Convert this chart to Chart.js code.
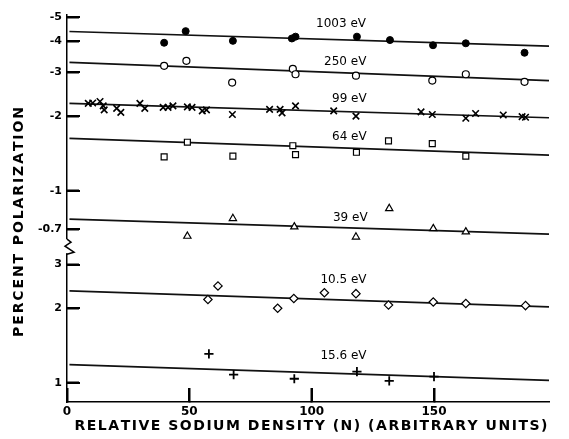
<!DOCTYPE html>
<html>
<head>
<meta charset="utf-8">
<script src="https://cdn.jsdelivr.net/npm/chart.js@4/dist/chart.umd.min.js"></script>
<style>
  body { margin: 0; background: #fff; }
</style>
</head>
<body>
<canvas id="polChart" width="569" height="439"></canvas>
<script>
// relative sodium density (N) for each series, and percent polarization
const n1003 = [39.7, 48.5, 67.8, 91.9, 93.4, 118.5, 132, 149.6, 163, 187];
const p1003 = [-3.95, -4.40, -4.02, -4.11, -4.18, -4.18, -4.05, -3.86, -3.93, -3.60];

const n250 = [39.7, 48.8, 67.5, 92.3, 93.4, 118.1, 149.3, 163, 187];
const p250 = [-3.19, -3.34, -2.73, -3.10, -2.95, -2.91, -2.78, -2.95, -2.75];

const n99 = [8.7, 10.5, 13.5, 14.8, 15.2, 20.3, 22.0, 29.8, 31.8, 39.3, 41.3, 43.3, 49.2, 51.1, 55.3,
             57.0, 67.6, 82.8, 87.1, 87.9, 93.4, 109, 118.1, 144.7, 149.3, 163, 167, 178.3, 186, 187.4];
const p99 = [-2.25, -2.26, -2.29, -2.20, -2.12, -2.15, -2.07, -2.25, -2.15, -2.17, -2.17, -2.20, -2.18, -2.17, -2.10,
             -2.12, -2.03, -2.13, -2.13, -2.06, -2.20, -2.10, -2.00, -2.08, -2.03, -1.96, -2.05, -2.02, -1.99, -1.98];

const n64 = [39.7, 49.2, 67.8, 92.3, 93.4, 118.3, 131.4, 149.3, 163];
const p64 = [-1.37, -1.57, -1.38, -1.52, -1.40, -1.43, -1.59, -1.55, -1.38];

const n39 = [49.2, 67.8, 92.9, 118.1, 131.7, 149.7, 163];
const p39 = [-0.657, -0.774, -0.716, -0.652, -0.849, -0.705, -0.684];

const n105 = [57.6, 61.7, 86.1, 92.7, 105.2, 118.1, 131.4, 149.7, 163, 187.4];
const p105 = [2.17, 2.46, 2.00, 2.19, 2.31, 2.29, 2.06, 2.12, 2.09, 2.05];

const n156 = [58, 68.1, 92.9, 118.5, 131.7, 150];
const p156 = [1.31, 1.08, 1.04, 1.11, 1.02, 1.06];

// fitted straight lines: value at start and end of the density range
const fitN = [1, 197];
const fit1003 = [-4.385, -3.83];
const fit250 = [-3.29, -2.78];
const fit99 = [-2.25, -1.97];
const fit64 = [-1.627, -1.393];
const fit39 = [-0.769, -0.669];
const fit105 = [2.35, 2.025];
const fit156 = [1.186, 1.025];

const energyLabels = ['1003 eV', '250 eV', '99 eV', '64 eV', '39 eV', '10.5 eV', '15.6 eV'];
// label anchor (density, polarization)
const labelN = [112, 113.7, 115.4, 115.4, 115.8, 113, 113];
const labelP = [-4.70, -3.31, -2.35, -1.65, -0.781, 2.61, 1.28];

const topTicks = [5, 4, 3, 2, 1, 0.7];
const bottomTicks = [3, 2, 1];
const xTicks = [0, 50, 100, 150];

// negative polarizations go on the upper (broken) axis, plotted by magnitude
const axisFor = v => v < 0 ? 'yTop' : 'yBot';
const pts = (ns, ps) => ns.map((n, i) => ({ x: n, y: Math.abs(ps[i]) }));

function markers(ns, ps, style, radius, fill, bw) {
    return {
        data: pts(ns, ps),
        yAxisID: axisFor(ps[0]),
        showLine: false,
        pointStyle: style,
        pointRadius: radius,
        pointBackgroundColor: fill,
        pointBorderColor: '#000',
        pointBorderWidth: bw
    };
}
function fitLine(fit) {
    return {
        data: pts(fitN, fit),
        yAxisID: axisFor(fit[0]),
        showLine: true,
        borderColor: '#111',
        borderWidth: 1.7,
        pointRadius: 0
    };
}

const titleFont = 'bold 14px "DejaVu Sans"';

// spread the letters out so the text fills the given width
function drawSpaced(ctx, text, cx, cy, width) {
    const chars = text.split('');
    const widths = chars.map(c => ctx.measureText(c).width);
    const total = widths.reduce((a, b) => a + b, 0);
    const gap = (width - total) / (chars.length - 1);
    ctx.textAlign = 'left';
    let x = cx - width / 2;
    chars.forEach((c, i) => {
        ctx.fillText(c, x, cy);
        x += widths[i] + gap;
    });
}

const decor = {
    id: 'decor',
    afterDraw(chart) {
        const ctx = chart.ctx;
        const s = chart.scales;
        const left = Math.round(s.x.left);
        const bottom = Math.round(s.x.top);
        ctx.save();
        ctx.globalAlpha = 1;
        ctx.globalCompositeOperation = 'source-over';
        ctx.strokeStyle = '#000';
        ctx.fillStyle = '#000';
        ctx.lineWidth = 1.5;

        // inward tick marks, 2px thick on whole pixels
        topTicks.forEach(v => ctx.fillRect(left, Math.round(s.yTop.getPixelForValue(v)) - 1, 13, 2));
        bottomTicks.forEach(v => ctx.fillRect(left, Math.round(s.yBot.getPixelForValue(v)) - 1, 13, 2));
        xTicks.slice(1).forEach(v => ctx.fillRect(Math.round(s.x.getPixelForValue(v)) - 1, bottom - 14, 2, 14));

        // axis break
        const yb = s.yTop.bottom;
        ctx.fillStyle = '#fff';
        ctx.fillRect(left - 3, yb - 8, 6, 14);
        ctx.fillStyle = '#000';
        ctx.beginPath();
        ctx.moveTo(left, yb - 8);
        ctx.lineTo(left + 4, yb - 5);
        ctx.lineTo(left - 2, yb - 1);
        ctx.lineTo(left + 7, yb + 5);
        ctx.lineTo(left, yb + 7);
        ctx.stroke();

        // energy labels
        ctx.font = '12px "DejaVu Sans"';
        ctx.textAlign = 'center';
        ctx.textBaseline = 'middle';
        energyLabels.forEach((t, i) => {
            const id = axisFor(labelP[i]);
            ctx.fillText(t, s.x.getPixelForValue(labelN[i]), s[id].getPixelForValue(Math.abs(labelP[i])));
        });

        // axis titles
        ctx.font = titleFont;
        ctx.textBaseline = 'middle';
        drawSpaced(ctx, 'RELATIVE SODIUM DENSITY (N) (ARBITRARY UNITS)', 311, 426, 473);
        ctx.translate(19, 222);
        ctx.rotate(-Math.PI / 2);
        drawSpaced(ctx, 'PERCENT POLARIZATION', 0, 0, 230);
        ctx.restore();
    }
};

// negative tickLength turns the tick marks inward; padding makes up for it
const yBase = {
    type: 'logarithmic',
    position: 'left',
    stack: 'pol',
    grid: { display: true, drawOnChartArea: false, drawTicks: true, tickLength: -12, tickWidth: 2, tickColor: '#000' },
    border: { display: true, color: '#000', width: 1.5 },
    ticks: { color: '#000', padding: 17, font: { family: 'DejaVu Sans', size: 11, weight: 'bold' } },
    afterFit(scale) { scale.width = 67; scale.paddingTop = 0; scale.paddingBottom = 0; }
};

new Chart(document.getElementById('polChart'), {
    type: 'scatter',
    data: {
        datasets: [
            markers(n1003, p1003, 'circle', 3.5, '#000', 1),
            markers(n250, p250, 'circle', 3.5, '#fff', 1.2),
            markers(n99, p99, 'crossRot', 4.6, '#000', 1.6),
            markers(n64, p64, 'rect', 4.2, '#fff', 1.2),
            markers(n39, p39, 'triangle', 4.2, '#fff', 1.2),
            markers(n105, p105, 'rectRot', 4.2, '#fff', 1.2),
            markers(n156, p156, 'cross', 4.6, '#000', 1.8),
            fitLine(fit1003), fitLine(fit250), fitLine(fit99), fitLine(fit64),
            fitLine(fit39), fitLine(fit105), fitLine(fit156)
        ]
    },
    options: {
        responsive: false,
        animation: false,
        layout: { padding: { top: 15, right: 20, left: 0, bottom: 0 } },
        plugins: { legend: { display: false }, tooltip: { enabled: false } },
        scales: {
            x: {
                type: 'linear',
                min: 0,
                max: 197,
                grid: { display: true, drawOnChartArea: false, drawTicks: true, tickLength: -14, tickWidth: 2, tickColor: '#000' },
                border: { display: true, color: '#000', width: 1.5 },
                ticks: { color: '#000', padding: 17, font: { family: 'DejaVu Sans', size: 12, weight: 'bold' } },
                afterBuildTicks(scale) { scale.ticks = xTicks.map(v => ({ value: v })); },
                afterFit(scale) { scale.height = 37; scale.paddingLeft = 0; scale.paddingRight = 0; }
            },
            yTop: Object.assign({}, yBase, {
                weight: 2,
                stackWeight: 232,
                min: 0.593,
                max: 5.11,
                afterBuildTicks(scale) { scale.ticks = topTicks.map(v => ({ value: v })); },
                ticks: Object.assign({}, yBase.ticks, { callback: v => '-' + v })
            }),
            yBot: Object.assign({}, yBase, {
                weight: 1,
                stackWeight: 154.7,
                min: 0.838,
                max: 3.525,
                afterBuildTicks(scale) { scale.ticks = bottomTicks.map(v => ({ value: v })); },
                ticks: Object.assign({}, yBase.ticks, { callback: v => String(v) })
            })
        }
    },
    plugins: [decor]
});
</script>
</body>
</html>
